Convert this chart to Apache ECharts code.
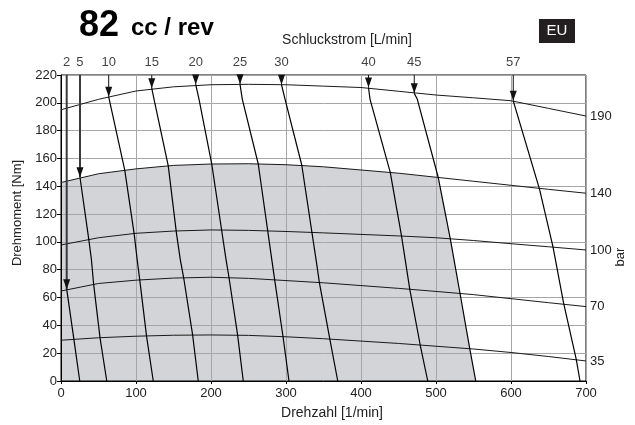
<!DOCTYPE html>
<html>
<head>
<meta charset="utf-8">
<script src="https://cdn.jsdelivr.net/npm/echarts@6/dist/echarts.min.js"></script>
<style>
  html, body { margin: 0; padding: 0; background: #fff; }
  #chart { width: 635px; height: 425px; }
</style>
</head>
<body>
<div id="chart"></div>
<script>
// Drehzahl stuetzstellen fuer die druckkurven
const rpmGrid = [0, 50, 100, 150, 200, 250, 300, 350, 400, 450, 500, 550, 600, 650, 700];

// Drehmoment [Nm] je druckstufe
const p35 = [29.3, 31.1, 32.2, 32.9, 33.1, 32.8, 31.8, 30.4, 28.7, 27, 25, 23, 20.5, 17.6, 14.4];
const p70 = [64.7, 70.1, 72.5, 74, 74.6, 73.8, 72.2, 70.6, 68.6, 66.6, 64.4, 62.1, 59.2, 56.3, 53.5];
const p100 = [97.8, 103, 106.2, 107.8, 108.6, 108.3, 107.5, 106.5, 105.4, 104.3, 103, 101, 98.7, 96.5, 94.2];
const p140 = [142.7, 149, 152.5, 155, 156, 156.2, 155.5, 154, 151.7, 149.4, 146.5, 143.6, 140.7, 137.8, 135];
const p190 = [195, 202.5, 208.5, 211.5, 213, 213.3, 213, 212, 211, 208.3, 205.6, 203.6, 201.5, 196, 190.5];
const pressureLabels = ['35', '70', '100', '140', '190'];

// Schluckstrom linien [rpm, Nm], von oben nach unten
const q2 = [[7.6, 66], [17.3, 29.6], [25, 0]];
const q5 = [[25.3, 146.5], [37, 102], [40.5, 87.5], [43.5, 69.6], [52, 31.2], [61, 0]];
const q10 = [[63.6, 204.3], [85, 151.6], [97.5, 106], [101.5, 87.5], [105, 72.7], [114, 32.4], [123, 0]];
const q15 = [[121, 210.5], [124, 202.7], [143, 154.7], [154, 106], [159, 87.5], [163.5, 74.4], [175.5, 33.1], [183, 0]];
const q20 = [[179.6, 213.2], [184, 202.7], [201, 156], [220, 87.5], [224, 74.4], [235.5, 33], [243, 0]];
const q25 = [[238.7, 213.3], [241.7, 202.7], [263, 156], [281, 87.5], [285, 72.4], [296, 32], [304, 0]];
const q30 = [[294, 213], [298.7, 202.7], [321, 155.3], [340, 87.5], [344.5, 70.8], [358.5, 30], [369, 0]];
const q40 = [[410, 211], [412, 202.7], [439, 150], [454, 104.3], [465, 66], [479, 25.7], [489, 0]];
const q45 = [[471, 206.8], [475, 202.7], [503, 146.3], [519, 102.4], [532, 63.1], [545, 23.3], [553, 0]];
const q57 = [[603, 201.4], [638, 138], [656, 96.5], [670, 56.3], [687, 15.6], [692, 0]];
const flowValues = ['2', '5', '10', '15', '20', '25', '30', '40', '45', '57'];

const FONT = 'Liberation Sans, Arial, sans-serif';
const TOP_NM = 220;

const chart = echarts.init(document.getElementById('chart'));

const pressureSets = [p35, p70, p100, p140, p190];
const flowSets = [q2, q5, q10, q15, q20, q25, q30, q40, q45, q57];

// grauer bereich: 140 bar kurve bis 500, dann an der 45er linie runter
const grayArea = rpmGrid.map((x, i) => [x, p140[i]]).filter(d => d[0] <= 500).concat(q45.slice(2));

const series = [];

series.push({
    type: 'line',
    z: -1,
    silent: true,
    symbol: 'none',
    lineStyle: { width: 0 },
    areaStyle: { color: '#d3d4d7', opacity: 1 },
    data: grayArea
});

pressureSets.forEach((vals, i) => {
    series.push({
        type: 'line',
        silent: true,
        symbol: 'none',
        lineStyle: { color: '#1a1a1a', width: 1 },
        data: rpmGrid.map((x, k) => [x, vals[k]]),
        endLabel: {
            show: true,
            formatter: pressureLabels[i],
            distance: 4,
            color: '#222',
            fontFamily: FONT,
            fontSize: 13
        }
    });
});

flowSets.forEach(pts => {
    series.push({
        type: 'line',
        silent: true,
        symbol: 'none',
        lineStyle: { color: '#000', width: 1.2 },
        data: pts
    });
});

// pfeile von oben
flowSets.forEach((pts, i) => {
    const tip = pts[0];
    const thick = i < 2;
    series.push({
        type: 'line',
        silent: true,
        clip: false,
        showSymbol: true,
        symbol: 'none',
        lineStyle: { color: thick ? '#3a3a3a' : '#111', width: thick ? 2 : 1 },
        data: [
            { value: [tip[0], TOP_NM] },
            {
                value: tip,
                symbol: 'triangle',
                symbolSize: [7, 10],
                symbolRotate: 180,
                symbolOffset: [0, -5],
                itemStyle: { color: '#111' }
            }
        ]
    });
});

// beschriftung der pfeile
series.push({
    type: 'scatter',
    silent: true,
    clip: false,
    symbolSize: 0.1,
    itemStyle: { color: 'transparent' },
    label: {
        show: true,
        position: 'top',
        distance: 6,
        color: '#111',
        fontFamily: FONT,
        fontSize: 13,
        formatter: p => flowValues[p.dataIndex]
    },
    data: flowSets.map(pts => [pts[0][0], TOP_NM])
});

const option = {
    animation: false,
    backgroundColor: '#fff',
    textStyle: { fontFamily: FONT },
    grid: {
        left: 61,
        right: 49,
        top: 75,
        bottom: 43,
        show: true,
        borderColor: '#000',
        borderWidth: 1
    },
    xAxis: {
        type: 'value',
        min: 0,
        max: 700,
        interval: 100,
        name: 'Drehzahl [1/min]',
        nameLocation: 'middle',
        nameGap: 25,
        nameTextStyle: { fontSize: 14, color: '#222', padding: [0, 0, 0, 17] },
        axisLine: { lineStyle: { color: '#000' } },
        axisTick: { show: true, length: 3, lineStyle: { color: '#000' } },
        axisLabel: { fontSize: 13, color: '#222', margin: 6 },
        splitLine: { lineStyle: { color: '#a6a6a6', width: 1 } }
    },
    yAxis: [
        {
            type: 'value',
            min: 0,
            max: 220,
            interval: 20,
            name: 'Drehmoment [Nm]',
            nameLocation: 'middle',
            nameGap: 37,
            nameTextStyle: { fontSize: 13, color: '#222', padding: [0, 0, 0, 30] },
            axisLine: { show: true, lineStyle: { color: '#000' } },
            axisTick: { show: true, length: 4, lineStyle: { color: '#000' } },
            axisLabel: { fontSize: 13, color: '#222', margin: 4 },
            splitLine: { lineStyle: { color: '#a6a6a6', width: 1 } }
        }
    ],
    graphic: [
        {
            type: 'text',
            left: 79,
            top: 8,
            style: { text: '82', font: 'bold 36px ' + FONT, fill: '#000' }
        },
        {
            type: 'text',
            left: 131,
            top: 16,
            style: { text: 'cc / rev', font: 'bold 24px ' + FONT, fill: '#000' }
        },
        {
            type: 'text',
            x: 347,
            y: 40,
            style: { text: 'Schluckstrom [L/min]', font: '14px ' + FONT, fill: '#222', align: 'center', verticalAlign: 'middle' }
        },
        {
            type: 'rect',
            shape: { x: 539, y: 19, width: 36, height: 24 },
            style: { fill: '#231f20' }
        },
        {
            type: 'text',
            x: 557,
            y: 31,
            style: { text: 'EU', font: '15px ' + FONT, fill: '#fff', align: 'center', verticalAlign: 'middle' }
        },
        {
            type: 'text',
            x: 620,
            y: 257,
            rotation: Math.PI / 2,
            style: { text: 'bar', font: '13px ' + FONT, fill: '#222', align: 'center', verticalAlign: 'middle' }
        }
    ],
    series: series
};

chart.setOption(option);
</script>
</body>
</html>
